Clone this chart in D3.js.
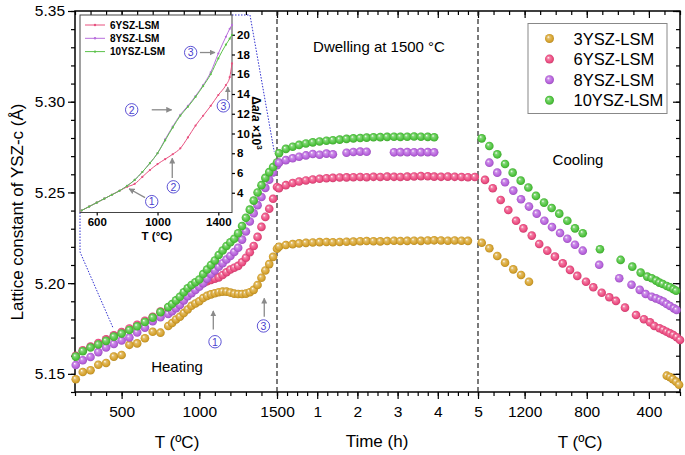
<!DOCTYPE html>
<html><head><meta charset="utf-8">
<script src="https://cdn.jsdelivr.net/npm/d3@7"></script>
<style>
html,body{margin:0;padding:0;background:#fff;}
svg{display:block;}
</style></head><body>
<svg id="chart" width="685" height="455"></svg>
<script>
// ---------------- DATA ----------------
const seriesNames = ["3YSZ-LSM","6YSZ-LSM","8YSZ-LSM","10YSZ-LSM"];
const seriesColors = ["#D6A22C","#EC4A80","#B660DC","#4DC33C"];

// Heating (T in °C)
const heatT = [205,250,300,350,400,450,500,550,600,650,700,750,800,825,850,875,900,925,950,975,1000,1025,1050,1075,1100,1125,1150,1175,1200,1225,1250,1275,1300,1325,1350,1375,1400,1425,1450,1475,1500];
const heat3 = [5.1470,5.1510,5.1520,5.1550,5.1560,5.1595,5.1604,5.1660,5.1668,5.1696,5.1732,5.1727,5.1764,5.1780,5.1800,5.1815,5.1835,5.1855,5.1875,5.1888,5.1900,5.1918,5.1930,5.1938,5.1944,5.1950,5.1953,5.1953,5.1948,5.1942,5.1940,5.1940,5.1942,5.1950,5.1963,5.1990,5.2030,5.2070,5.2105,5.2145,5.2190];
const heat6 = [5.1600,5.1630,5.1650,5.1670,5.1690,5.1712,5.1730,5.1750,5.1770,5.1793,5.1815,5.1843,5.1865,5.1880,5.1895,5.1912,5.1930,5.1945,5.1960,5.1975,5.1990,5.2000,5.2010,5.2018,5.2025,5.2032,5.2045,5.2060,5.2075,5.2085,5.2095,5.2115,5.2140,5.2170,5.2205,5.2255,5.2310,5.2365,5.2410,5.2465,5.2530];
const heat8 = [5.1549,5.1575,5.1593,5.1620,5.1645,5.1665,5.1684,5.1700,5.1728,5.1755,5.1790,5.1812,5.1830,5.1845,5.1862,5.1880,5.1905,5.1928,5.1945,5.1962,5.1980,5.2000,5.2025,5.2050,5.2070,5.2090,5.2110,5.2130,5.2150,5.2172,5.2195,5.2240,5.2285,5.2340,5.2385,5.2430,5.2475,5.2525,5.2570,5.2610,5.2650];
const heat10 = [5.1595,5.1625,5.1645,5.1662,5.1682,5.1705,5.1722,5.1742,5.1762,5.1786,5.1810,5.1840,5.1868,5.1885,5.1905,5.1925,5.1950,5.1972,5.1990,5.2005,5.2020,5.2050,5.2075,5.2100,5.2125,5.2155,5.2180,5.2205,5.2225,5.2245,5.2275,5.2315,5.2360,5.2405,5.2455,5.2500,5.2540,5.2580,5.2612,5.2640,5.2665];

// Dwelling at 1500 °C (time in h)
const dwellT = [0.05,0.22,0.39,0.55,0.72,0.89,1.06,1.23,1.39,1.56,1.73,1.90,2.07,2.23,2.40,2.57,2.74,2.91,3.07,3.24,3.41,3.58,3.75,3.91,4.08,4.25,4.42,4.59,4.75,4.92];
const dwell3 = [5.2201,5.2210,5.2215,5.2219,5.2222,5.2224,5.2226,5.2227,5.2225,5.2227,5.2228,5.2229,5.2231,5.2232,5.2231,5.2230,5.2232,5.2234,5.2232,5.2233,5.2234,5.2233,5.2235,5.2236,5.2235,5.2234,5.2235,5.2234,5.2233];
const dwell6 = [5.2523,5.2540,5.2552,5.2560,5.2566,5.2571,5.2575,5.2578,5.2580,5.2582,5.2583,5.2584,5.2585,5.2584,5.2586,5.2585,5.2587,5.2586,5.2585,5.2587,5.2588,5.2590,5.2589,5.2587,5.2586,5.2587,5.2586,5.2585,5.2584,5.2585];
const dwell10 = [5.2716,5.2740,5.2752,5.2762,5.2770,5.2776,5.2781,5.2785,5.2788,5.2791,5.2795,5.2798,5.2800,5.2802,5.2804,5.2805,5.2806,5.2807,5.2806,5.2807,5.2808,5.2807,5.2806,5.2804];
const dwell8T = [0.05,0.22,0.39,0.55,0.72,0.89,1.06,1.23,1.39,1.73,1.90,2.07,2.23,2.91,3.07,3.24,3.41,3.58,3.75,3.91];
const dwell8 = [5.2664,5.2678,5.2688,5.2697,5.2704,5.2712,5.2708,5.2714,5.2710,5.2719,5.2723,5.2725,5.2724,5.2721,5.2722,5.2722,5.2721,5.2722,5.2722,5.2721];

// Cooling (T in °C)
const cool3T = [1476,1427,1376,1326,1273,1223,1172,285,264,246,225,206];
const cool3 = [5.2223,5.2192,5.2150,5.2113,5.2076,5.2045,5.2008,5.1490,5.1482,5.1471,5.1457,5.1440];
const cool6T = [1455,1405,1354,1305,1255,1208,1154,1106,1054,1005,955,908,861,805,758,704,655,612,554,483,432,393,365,332,308,286,265,243,221,200];
const cool6 = [5.2569,5.2523,5.2458,5.2403,5.2344,5.2302,5.2262,5.2216,5.2179,5.2146,5.2109,5.2073,5.2040,5.2008,5.1977,5.1947,5.1922,5.1902,5.1865,5.1824,5.1801,5.1784,5.1764,5.1751,5.1742,5.1732,5.1723,5.1714,5.1702,5.1687];
const cool8T = [1427,1376,1326,1273,1223,1172,1122,1073,1024,972,925,876,826,720,591,512,459,421,382,355,329,308,286,264,239,222];
const cool8 = [5.2664,5.2609,5.2556,5.2510,5.2462,5.2422,5.2383,5.2344,5.2309,5.2276,5.2245,5.2212,5.2179,5.2101,5.2027,5.1991,5.1963,5.1940,5.1925,5.1916,5.1907,5.1898,5.1885,5.1874,5.1861,5.1852];
const cool10T = [1476,1427,1376,1326,1277,1225,1176,1127,1075,1026,977,925,876,826,715,582,507,453,411,382,354,333,311,285,264,242,225];
const cool10 = [5.2798,5.2756,5.2710,5.2657,5.2609,5.2565,5.2527,5.2481,5.2444,5.2414,5.2383,5.2344,5.2302,5.2275,5.2187,5.2128,5.2091,5.2058,5.2036,5.2027,5.2014,5.2003,5.1995,5.1984,5.1977,5.1966,5.1958];

// Inset: Δa/a ×10³ vs T
const insetNames = ["6YSZ-LSM","8YSZ-LSM","10YSZ-LSM"];
const insetColors = ["#E8507F","#B86EDC","#5CC24A"];
const insetT = [500,550,600,650,700,750,800,850,900,950,1000,1050,1100,1150,1200,1250,1300,1350,1400,1450,1475,1490];
const inset6 = [2.2,2.6,3.0,3.4,3.8,4.2,4.6,4.9,5.6,6.3,6.9,7.4,7.9,8.5,9.6,10.8,11.8,12.8,13.9,14.9,15.7,17.1];
const inset8 = [2.2,2.6,3.0,3.4,3.8,4.2,4.7,5.3,6.1,7.0,8.0,9.4,10.7,11.9,12.8,13.8,14.9,16.2,18.1,19.8,20.6,21.0];
const inset10 = [2.2,2.6,3.0,3.4,3.8,4.2,4.7,5.3,6.1,7.0,8.0,9.3,10.6,11.8,12.7,13.7,14.8,16.0,17.6,19.0,19.6,20.0];

// Ticks
const yMajor = [5.15,5.20,5.25,5.30,5.35];
const heatMajor = [500,1000,1500];
const timeMajor = [1,2,3,4,5];
const coolMajor = [1200,800,400];
const insetXTicks = [600,1000,1400];
const insetYTicks = [4,6,8,10,12,14,16,18,20];

// ---------------- DRAW ----------------
const FONT = '"Liberation Sans", Arial, Helvetica, sans-serif';
const svg = d3.select("#chart").attr("font-family", FONT);
const L = 75, R = 680, TOP = 11, B = 392;
const xH = d3.scaleLinear().domain([200,1500]).range([L,277]);
const xD = d3.scaleLinear().domain([0,5]).range([277,478]);
const xC = d3.scaleLinear().domain([1500,200]).range([478,R]);
const y = d3.scaleLinear().domain([5.14,5.35]).range([B,TOP]);

const defs = svg.append("defs");
seriesColors.forEach((c,i)=>{
  const g = defs.append("radialGradient").attr("id","sph"+i)
    .attr("cx","50%").attr("cy","50%").attr("r","55%").attr("fx","35%").attr("fy","32%");
  g.append("stop").attr("offset","0%").attr("stop-color","#ffffff");
  g.append("stop").attr("offset","28%").attr("stop-color",d3.interpolateRgb(c,"#fff")(0.3));
  g.append("stop").attr("offset","72%").attr("stop-color",c);
  g.append("stop").attr("offset","100%").attr("stop-color",d3.color(c).darker(0.6));
});
defs.append("marker").attr("id","arr").attr("viewBox","0 0 10 10")
  .attr("refX",9).attr("refY",5).attr("markerWidth",6).attr("markerHeight",6)
  .attr("markerUnits","userSpaceOnUse").attr("orient","auto")
  .append("path").attr("d","M0,0L10,5L0,10z").attr("fill","#8a8a8a");

// axes helper
function addAxis(gen, transform, vals, size, pad, fmt, fs, weight){
  const g = svg.append("g").attr("transform",transform)
    .call(gen.tickValues(vals).tickSize(size).tickPadding(pad).tickFormat(fmt).tickSizeOuter(0));
  g.attr("font-family",null).attr("font-size",null);
  g.select(".domain").remove();
  g.selectAll("line").attr("stroke","#000").attr("stroke-width",1.2);
  g.selectAll("text").attr("font-size",fs||15.5).attr("fill","#000").attr("font-weight",weight||"normal");
  return g;
}
const none = () => "";
// y axes
addAxis(d3.axisLeft(y), `translate(${L},0)`, d3.range(5.14,5.3501,0.01), 4, 3, none);
addAxis(d3.axisLeft(y), `translate(${L},0)`, yMajor, 7, 3, d3.format(".2f"));
addAxis(d3.axisRight(y), `translate(${R},0)`, d3.range(5.14,5.3501,0.01), -4, 3, none);
addAxis(d3.axisRight(y), `translate(${R},0)`, yMajor, -7, 3, none);
// bottom axes
addAxis(d3.axisBottom(xH), `translate(0,${B})`, d3.range(200,1501,100), 4, 7, none);
addAxis(d3.axisBottom(xH), `translate(0,${B})`, heatMajor, 7, 7, d=>d);
addAxis(d3.axisBottom(xD), `translate(0,${B})`, d3.range(0,5.001,0.25), 4, 7, none);
addAxis(d3.axisBottom(xD), `translate(0,${B})`, timeMajor, 7, 7, d=>d);
addAxis(d3.axisBottom(xC), `translate(0,${B})`, d3.range(200,1501,100), 4, 7, none);
addAxis(d3.axisBottom(xC), `translate(0,${B})`, coolMajor, 7, 7, d=>d);
// top mirrored
addAxis(d3.axisTop(xH), `translate(0,${TOP})`, d3.range(200,1501,100), -4, 3, none);
addAxis(d3.axisTop(xH), `translate(0,${TOP})`, heatMajor, -7, 3, none);
addAxis(d3.axisTop(xD), `translate(0,${TOP})`, d3.range(0,5.001,0.25), -4, 3, none);
addAxis(d3.axisTop(xD), `translate(0,${TOP})`, timeMajor, -7, 3, none);
addAxis(d3.axisTop(xC), `translate(0,${TOP})`, d3.range(200,1501,100), -4, 3, none);
addAxis(d3.axisTop(xC), `translate(0,${TOP})`, coolMajor, -7, 3, none);

// frame
svg.append("rect").attr("x",L).attr("y",TOP).attr("width",R-L).attr("height",B-TOP)
  .attr("fill","none").attr("stroke","#000").attr("stroke-width",1.5);

// dashed separators
[xD(0), xD(5)].forEach(xx=>{
  svg.append("line").attr("x1",xx).attr("x2",xx).attr("y1",TOP).attr("y2",B)
    .attr("stroke","#222").attr("stroke-width",1.2).attr("stroke-dasharray","5,3");
});

// data points
const R0 = 4.3;
function dots(xs, ys, xs_scale, idx){
  svg.append("g").selectAll("circle").data(d3.zip(xs,ys)).join("circle")
    .attr("cx",d=>xs_scale(d[0])).attr("cy",d=>y(d[1])).attr("r",R0)
    .attr("fill",`url(#sph${idx})`);
}
[[heat3,0],[heat6,1],[heat8,2],[heat10,3]].forEach(([v,i])=>dots(heatT,v,xH,i));
dots(dwellT.slice(0,dwell3.length), dwell3, xD, 0);
dots(dwellT.slice(0,dwell6.length), dwell6, xD, 1);
dots(dwell8T, dwell8, xD, 2);
dots(dwellT.slice(0,dwell10.length), dwell10, xD, 3);
dots(cool3T, cool3, xC, 0);
dots(cool6T, cool6, xC, 1);
dots(cool8T, cool8, xC, 2);
dots(cool10T, cool10, xC, 3);

// text labels
function txt(x,yy,s,fs,opt){
  const t = svg.append("text").attr("x",x).attr("y",yy).attr("font-size",fs)
    .attr("text-anchor",(opt&&opt.anchor)||"middle").attr("fill","#000").text(s);
  if(opt&&opt.weight) t.attr("font-weight",opt.weight);
  return t;
}
txt(177,372,"Heating",15);
txt(379,52,"Dwelling at 1500 °C",15);
txt(578,165,"Cooling",15);
txt(177,448,"T (ºC)",17);
txt(377,447,"Time (h)",17);
txt(580,448,"T (ºC)",17);
svg.append("text").attr("transform","translate(23,212) rotate(-90)").attr("text-anchor","middle")
  .attr("font-size",17).text("Lattice constant of YSZ-c (Å)");

// circled numbers
const CIRC = "#4B3FCF";
function circNum(cx,cy,n){
  svg.append("circle").attr("cx",cx).attr("cy",cy).attr("r",6.2).attr("fill","#fff")
    .attr("stroke",CIRC).attr("stroke-width",0.9);
  svg.append("text").attr("x",cx).attr("y",cy+3.8).attr("text-anchor","middle")
    .attr("font-size",10.5).attr("fill",CIRC).text(n);
}
function arrow(x1,y1,x2,y2){
  svg.append("line").attr("x1",x1).attr("y1",y1).attr("x2",x2).attr("y2",y2)
    .attr("stroke","#8a8a8a").attr("stroke-width",1.3).attr("marker-end","url(#arr)");
}
// main annotations (data units)
const mainNotes = [{n:"1",T:1101,v:5.1677,aT:1090,a0:5.1745,a1:5.1847},
                   {n:"3",T:1413,v:5.1764,aT:1418,a0:5.1815,a1:5.1917}];
mainNotes.forEach(d=>{ arrow(xH(d.aT),y(d.a0),xH(d.aT),y(d.a1)); circNum(xH(d.T),y(d.v),d.n); });

// main legend
const lg = svg.append("g");
lg.append("rect").attr("x",528).attr("y",23.5).attr("width",139).attr("height",90)
  .attr("fill","#fff").attr("stroke","#888").attr("stroke-width",1);
seriesNames.forEach((s,i)=>{
  lg.append("circle").attr("cx",549.5).attr("cy",38.5+i*20.6).attr("r",4.5).attr("fill",`url(#sph${i})`);
  lg.append("text").attr("x",573.5).attr("y",38.5+i*20.6+6).attr("font-size",16.5).text(s);
});

// ---------------- INSET ----------------
const ix = d3.scaleLinear().domain([490,1490]).range([80,232]);
const iy = d3.scaleLinear().domain([2,22]).range([212.5,15]);
// dotted connectors
const conn = d3.line();
svg.append("path").attr("d",conn([[ix(490),iy(2)],[ix(490),y(5.2172)],[xH(443),y(5.1757)]]))
  .attr("fill","none").attr("stroke","#2f2fd0").attr("stroke-width",1).attr("stroke-dasharray","1.5,1.5");
svg.append("path").attr("d",conn([[ix(1490),iy(22)],[xH(1326),y(5.3478)],[xH(1482),y(5.2725)]]))
  .attr("fill","none").attr("stroke","#2f2fd0").attr("stroke-width",1).attr("stroke-dasharray","1.5,1.5");

svg.append("rect").attr("x",ix(490)).attr("y",iy(22)).attr("width",ix(1490)-ix(490)).attr("height",iy(2)-iy(22))
  .attr("fill","#fff").attr("stroke","#444").attr("stroke-width",1);

addAxis(d3.axisRight(iy), `translate(${ix(1490)},0)`, insetYTicks, 3, 2, d=>d, 11.5, "bold");
addAxis(d3.axisBottom(ix), `translate(0,${iy(2)})`, insetXTicks, 3, 2, d=>d, 11.5, "bold");

const il = d3.line().x(d=>ix(d[0])).y(d=>iy(d[1])).curve(d3.curveMonotoneX);
[[inset6,0],[inset8,1],[inset10,2]].forEach(([v,i])=>{
  const pts = d3.zip(insetT,v);
  svg.append("path").attr("d",il(pts)).attr("fill","none").attr("stroke",insetColors[i]).attr("stroke-width",1);
  svg.append("g").selectAll("circle").data(pts).join("circle")
    .attr("cx",d=>ix(d[0])).attr("cy",d=>iy(d[1])).attr("r",1.1).attr("fill",insetColors[i]);
});
// inset legend
insetNames.forEach((s,i)=>{
  const yy = 25 + i*13.3;
  svg.append("line").attr("x1",85).attr("x2",105).attr("y1",yy).attr("y2",yy).attr("stroke",insetColors[i]).attr("stroke-width",1);
  svg.append("circle").attr("cx",95).attr("cy",yy).attr("r",1.2).attr("fill",insetColors[i]);
  svg.append("text").attr("x",110).attr("y",yy+3.6).attr("font-size",10).attr("font-weight","bold").text(s);
});
txt(157,240,"T (°C)",11.5,{weight:"bold"});
const yt = svg.append("text").attr("transform","translate(252,123) rotate(90)").attr("text-anchor","middle")
  .attr("font-size",12).attr("font-weight","bold");
yt.append("tspan").text("Δ");
yt.append("tspan").attr("font-style","italic").text("a");
yt.append("tspan").text("/");
yt.append("tspan").attr("font-style","italic").text("a");
yt.append("tspan").text(" ×10");
yt.append("tspan").attr("font-size",8).attr("dy",-5).text("3");

const insetCircles = [{n:"1",T:962,v:3.1},{n:"2",T:1104,v:4.6},{n:"2",T:830,v:12.4},{n:"3",T:1218,v:18.2},{n:"3",T:1433,v:12.8}];
const insetArrows = [{t0:918,v0:3.5,t1:813,v1:4.4},{t0:1097,v0:5.5,t1:1097,v1:7.5},{t0:962,v0:12.4,t1:1093,v1:12.4},{t0:1279,v0:18.2,t1:1378,v1:18.2},{t0:1462,v0:13.4,t1:1462,v1:14.7}];
insetArrows.forEach(a=>arrow(ix(a.t0),iy(a.v0),ix(a.t1),iy(a.v1)));
insetCircles.forEach(c=>circNum(ix(c.T),iy(c.v),c.n));
</script></body></html>
